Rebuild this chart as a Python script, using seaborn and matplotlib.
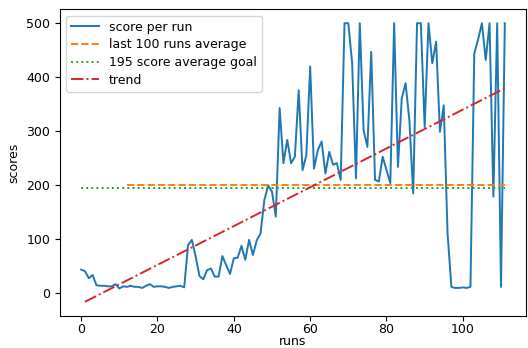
import matplotlib
matplotlib.use("Agg")
import matplotlib.pyplot as plt
import seaborn as sns
import numpy as np

# puntajes por corrida
scores = [44, 41, 28, 34, 15, 14, 14, 13, 13, 17, 9, 13, 12, 14, 12, 12, 10, 14, 17, 12,
          13, 13, 12, 10, 12, 13, 14, 11, 89, 99, 68, 32, 26, 43, 46, 31, 31, 69, 52, 36,
          65, 66, 88, 62, 99, 71, 98, 111, 173, 200, 188, 142, 343, 241, 284, 241, 253, 376, 228, 256,
          420, 231, 265, 281, 222, 262, 238, 241, 210, 500, 500, 426, 213, 500, 302, 271, 447, 210, 207, 253,
          228, 204, 500, 234, 361, 389, 320, 185, 500, 500, 308, 500, 426, 466, 299, 348, 111, 12, 10, 10,
          11, 10, 12, 444, 470, 500, 432, 500, 179, 500, 12, 500]
runs = list(range(len(scores)))

goal_value = 195
avg_value = 200
avg_start = 12

trend_x = [1, 111]
trend_y = [-15.6, 379.6]

plt.rcParams['font.size'] = 9
plt.rcParams['font.family'] = ['DejaVu Sans']

fig, ax = plt.subplots(figsize=(5.28, 3.48), dpi=100)
fig.subplots_adjust(left=0.1136, right=0.9962, bottom=0.0928, top=0.9733)

lw = 1.4
sns.lineplot(x=runs, y=scores, ax=ax, label='score per run', color='tab:blue', lw=lw)
avg_x = runs[avg_start:]
sns.lineplot(x=avg_x, y=[avg_value] * len(avg_x), ax=ax, label='last 100 runs average',
             color='tab:orange', linestyle='--', lw=lw)
sns.lineplot(x=runs, y=[goal_value] * len(runs), ax=ax, label='195 score average goal',
             color='tab:green', linestyle=':', lw=lw)
sns.lineplot(x=trend_x, y=trend_y, ax=ax, label='trend', color='tab:red', linestyle='-.', lw=lw)

ax.set_xlabel('runs', labelpad=-1)
ax.set_ylabel('scores')
ax.tick_params(axis='x', pad=2)
ax.legend(loc='upper left', handlelength=2.2, labelspacing=0.38)

fig.savefig('out.png', dpi=100)
